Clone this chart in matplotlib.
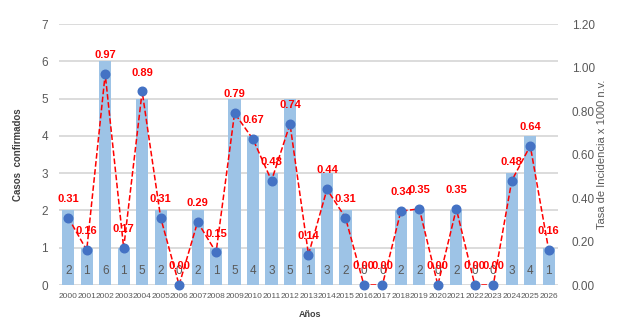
import numpy as np
import matplotlib.pyplot as plt

years = [str(y) for y in range(2000, 2027)]
casos = [2, 1, 6, 1, 5, 2, 0, 2, 1, 5, 4, 3, 5, 1, 3, 2, 0, 0, 2, 2, 0, 2, 0, 0, 3, 4, 1]
tasa = [0.31, 0.16, 0.97, 0.17, 0.89, 0.31, 0.00, 0.29, 0.15, 0.79, 0.67, 0.48, 0.74, 0.14,
        0.44, 0.31, 0.00, 0.00, 0.34, 0.35, 0.00, 0.35, 0.00, 0.00, 0.48, 0.64, 0.16]

plt.rcParams['font.family'] = ['Liberation Sans', 'DejaVu Sans']

fig = plt.figure(figsize=(6.21, 3.33), dpi=100)
ax = fig.add_axes([0.095, 0.1441, 0.8035, 0.7838])
x = np.arange(len(years))

ax.bar(x, casos, width=0.66, color='#9dc3e6', zorder=2)
for xi, c in zip(x, casos):
    ax.text(xi, 0.38, str(c), ha='center', va='center', fontsize=8.5, color='#595959', zorder=3)

ax.set_ylim(0, 7)
ax.set_xlim(-0.5, len(years) - 0.5)
ax.set_yticks(range(8))
ax.yaxis.grid(True, color='#d9d9d9', lw=1.3, zorder=0)
ax.set_axisbelow(True)
for s in ax.spines.values():
    s.set_visible(False)
ax.tick_params(axis='y', length=0, labelsize=8.5, labelcolor='#595959', pad=8)
ax.set_xticks(x)
ax.set_xticklabels(years, fontsize=6, color='#595959')
ax.tick_params(axis='x', length=0, pad=6)

ax2 = ax.twinx()
ax2.set_ylim(0, 1.2)
ax2.set_yticks(np.arange(0, 1.21, 0.2))
ax2.set_yticklabels(['%.2f' % v for v in np.arange(0, 1.21, 0.2)])
for s in ax2.spines.values():
    s.set_visible(False)
ax2.tick_params(axis='y', length=0, labelsize=8.5, labelcolor='#595959', pad=10)
ax2.plot(x, tasa, color='red', ls='--', lw=1.1, zorder=3)
ax2.plot(x, tasa, 'o', color='#4472c4', ms=6.2, zorder=4, clip_on=False)
for xi, t in zip(x, tasa):
    ax2.annotate('%.2f' % t, (xi, t), xytext=(0, 10), textcoords='offset points',
                 ha='center', va='bottom', fontsize=8, color='red', fontweight='bold', zorder=5)

fig.text(0.029, 0.536, 'Casos  confirmados', rotation=90, ha='center', va='center',
         fontsize=7, color='#404040', fontweight='bold')
fig.text(0.969, 0.536, 'Tasa de Incidencia x 1000 n.v.', rotation=90, ha='center', va='center',
         fontsize=8, color='#595959')
fig.text(0.5, 0.057, 'Años', ha='center', va='center', fontsize=6.5, color='#404040', fontweight='bold')

fig.savefig('out.png', dpi=100)
